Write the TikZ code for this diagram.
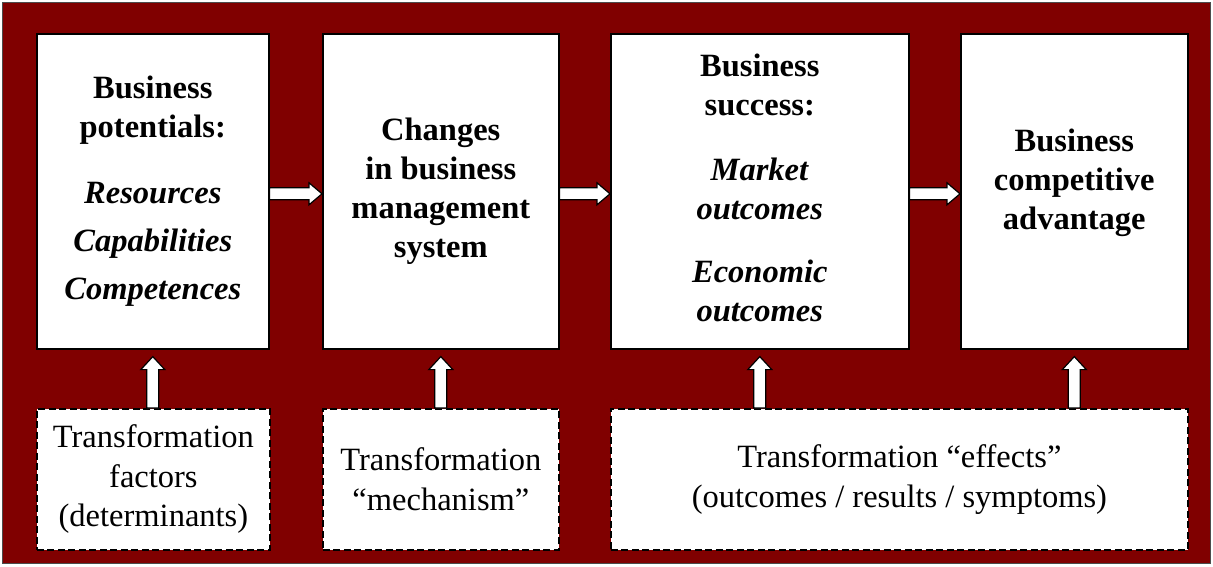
\documentclass[tikz,border=0pt]{standalone}
\usepackage{fontspec}
\setmainfont{Liberation Serif}
\usetikzlibrary{calc}
\definecolor{bgred}{RGB}{128,0,0}
\tikzset{
  mainbox/.style={draw=black, line width=1.6pt, fill=white, minimum width=#1,
    minimum height=315pt, anchor=north west, inner sep=0pt, align=center,
    font=\fontsize{32.5}{39}\selectfont\bfseries},
  dashbox/.style={draw=black, dash pattern=on 7pt off 3.5pt, line width=1.8pt,
    fill=white, minimum width=#1, minimum height=141pt, anchor=north west,
    inner sep=0pt, align=center, font=\fontsize{32.5}{39.5}\selectfont},
  blockarrow/.style={draw=black, line width=1.2pt, fill=white, line join=miter}
}
\newcommand\harr[2]{\draw[blockarrow] let \p1=(#1), \p2=(#2) in
  (\x1,\y1+3.5pt) -- (\x2-13pt,\y1+3.5pt) -- (\x2-13pt,\y1+8.5pt) -- (\x2,\y1-2.5pt)
  -- (\x2-13pt,\y1-13.5pt) -- (\x2-13pt,\y1-8.5pt) -- (\x1,\y1-8.5pt) -- cycle;}
\newcommand\varr[2]{\draw[blockarrow] let \p1=(#1), \p2=(#2) in
  (\x1-6pt,\y2) -- (\x1-6pt,\y1-20pt) -- (\x1-12pt,\y1-20pt) -- (\x1,\y1-7pt)
  -- (\x1+12pt,\y1-20pt) -- (\x1+6pt,\y1-20pt) -- (\x1+6pt,\y2) -- cycle;}
\begin{document}
\begin{tikzpicture}[x=1pt,y=-1pt]
\useasboundingbox (0,0) rectangle (1213,566);
\fill[white] (0,0) rectangle (1213,566);
\draw[fill=bgred, draw=black!70, line width=1pt] (2.5,2.5) rectangle (1210.5,563.5);

\node[mainbox=232pt] (b1) at (36,33) {Business\\potentials:\\[27pt]
  \textit{Resources}\\[9pt]\textit{Capabilities}\\[9pt]\textit{Competences}};
\node[mainbox=236pt] (b2) at (322,33) {Changes\\in business\\management\\system};
\node[mainbox=298pt] (b3) at (610,33) {Business\\success:\\[26pt]
  \textit{Market}\\\textit{outcomes}\\[24pt]\textit{Economic}\\\textit{outcomes}\rule[-8pt]{0pt}{0pt}};
\node[mainbox=227pt] (b4) at (960,33) {Business\\competitive\\advantage\rule[-24pt]{0pt}{0pt}};

\node[dashbox=233pt] (d1) at (36,408) {Transformation\\factors\\(determinants)};
\node[dashbox=236pt] (d2) at (322,408) {Transformation\\“mechanism”};
\node[dashbox=577pt] (d3) at (610,408) {Transformation “effects”\\(outcomes / results / symptoms)};

\harr{b1.east}{b2.west}
\harr{b2.east}{b3.west}
\harr{b3.east}{b4.west}

\varr{b1.south}{d1.north}
\varr{b2.south}{d2.north}
\varr{b3.south}{d3.north}
\varr{b4.south}{d3.north}
\end{tikzpicture}
\end{document}
